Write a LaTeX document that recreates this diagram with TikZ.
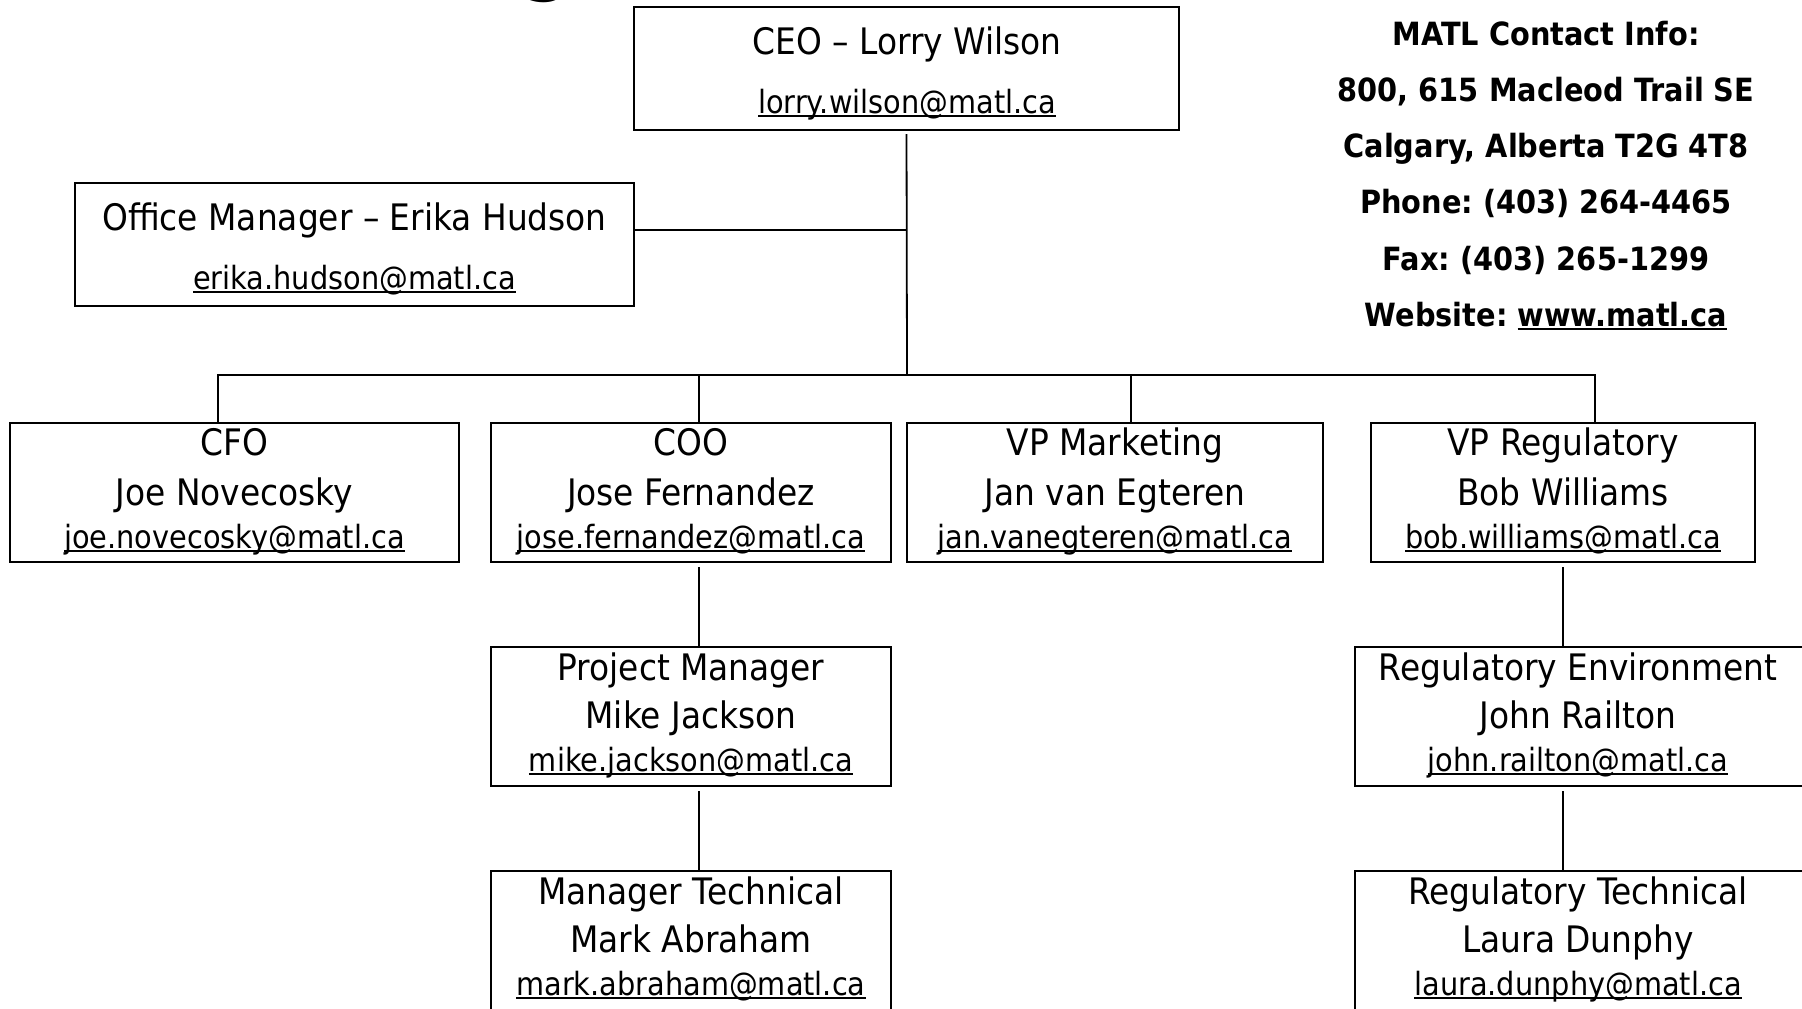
\documentclass[tikz,border=0pt]{standalone}
\usepackage{fontspec}
\setmainfont{DejaVu Sans}[FakeStretch=0.9]
\frenchspacing
\newcommand{\mailul}[1]{\setbox0\hbox{#1}\rlap{\rule[-0.11em]{\wd0}{0.055em}}\box0}
\tikzset{
 box/.style={draw, line width=1pt, rectangle, inner sep=0pt, outer sep=0pt},
 conn/.style={line width=0.9pt},
 ttl/.style={anchor=base, inner sep=0pt, font=\fontsize{18.25}{20}\selectfont},
 mail/.style={anchor=base, inner sep=0pt, font=\fontsize{16}{18}\selectfont},
 info/.style={anchor=base, inner sep=0pt, font=\bfseries\fontsize{16}{18}\selectfont},
 rowbox/.style={box, minimum height=69.5pt},
}
\begin{document}
\begin{tikzpicture}[x=0.5pt,y=-0.5pt]
\useasboundingbox (0,0) rectangle (1802,1008);
\fill[white] (0,0) rectangle (1802,1008);
\clip (0,0) rectangle (1802,1008);

% title fragment (cut off at top)
\node[anchor=base, inner sep=0pt, font=\bfseries\fontsize{40}{40}\selectfont] (ttlg) at (547,-15) {g};

% boxes
\node[box, minimum width=272.5pt, minimum height=61.5pt] (ceo) at (906.5,68.5) {};
\node[box, minimum width=279.5pt, minimum height=61.5pt] (om) at (354.5,244.5) {};
\node[rowbox, minimum width=224.5pt] (cfo) at (234.5,492.5) {};
\node[rowbox, minimum width=200pt] (coo) at (691,492.5) {};
\node[rowbox, minimum width=208pt] (vpm) at (1115,492.5) {};
\node[rowbox, minimum width=192pt] (vpr) at (1563,492.5) {};
\node[rowbox, minimum width=200pt] (pm) at (691,716.5) {};
\node[rowbox, minimum width=225.5pt] (re) at (1580.5,716.5) {};
\node[rowbox, minimum width=200pt] (mt) at (691,940.5) {};
\node[rowbox, minimum width=225.5pt] (rt) at (1580.5,940.5) {};

% texts
\node[ttl] (ceoT) at (907,54) {CEO – Lorry Wilson};
\node[mail] (ceoM) at (907,113) {\mailul{lorry.wilson@matl.ca}};
\node[ttl] (omT) at (354.5,230) {Office Manager – Erika Hudson};
\node[mail] (omM) at (354.5,289) {\mailul{erika.hudson@matl.ca}};

\node[ttl] (cfoT) at (234.5,455) {CFO};
\node[ttl] (cfoN) at (234.5,505) {Joe Novecosky};
\node[mail] (cfoM) at (234.5,548) {\mailul{joe.novecosky@matl.ca}};
\node[ttl] (cooT) at (691,455) {COO};
\node[ttl] (cooN) at (691,505) {Jose Fernandez};
\node[mail] (cooM) at (691,548) {\mailul{jose.fernandez@matl.ca}};
\node[ttl] (vpmT) at (1115,455) {VP Marketing};
\node[ttl] (vpmN) at (1115,505) {Jan van Egteren};
\node[mail] (vpmM) at (1115,548) {\mailul{jan.vanegteren@matl.ca}};
\node[ttl] (vprT) at (1563,455) {VP Regulatory};
\node[ttl] (vprN) at (1563,505) {Bob Williams};
\node[mail] (vprM) at (1563,548) {\mailul{bob.williams@matl.ca}};

\node[ttl] (pmT) at (691,680) {Project Manager};
\node[ttl] (pmN) at (691,728) {Mike Jackson};
\node[mail] (pmM) at (691,771) {\mailul{mike.jackson@matl.ca}};
\node[ttl] (reT) at (1578,680) {Regulatory Environment};
\node[ttl] (reN) at (1578,728) {John Railton};
\node[mail] (reM) at (1578,771) {\mailul{john.railton@matl.ca}};

\node[ttl] (mtT) at (691,904) {Manager Technical};
\node[ttl] (mtN) at (691,952) {Mark Abraham};
\node[mail] (mtM) at (691,995) {\mailul{mark.abraham@matl.ca}};
\node[ttl] (rtT) at (1578,904) {Regulatory Technical};
\node[ttl] (rtN) at (1578,952) {Laura Dunphy};
\node[mail] (rtM) at (1578,995) {\mailul{laura.dunphy@matl.ca}};

% contact info
\node[info] (c1) at (1546,45) {MATL Contact Info:};
\node[info] (c2) at (1546,101) {800, 615 Macleod Trail SE};
\node[info] (c3) at (1546,157) {Calgary, Alberta T2G 4T8};
\node[info] (c4) at (1546,213) {Phone: (403) 264-4465};
\node[info] (c5) at (1546,270) {Fax: (403) 265-1299};
\node[info] (c6) at (1546,326) {Website: \mailul{www.matl.ca}};

% connectors
\coordinate (j0) at (907,375);
\coordinate (jo) at (907,230);
\coordinate (d1) at (218,375);
\coordinate (d2) at (699,375);
\coordinate (d3) at (1131,375);
\coordinate (d4) at (1595,375);
\coordinate (k1) at (699,0);
\coordinate (k2) at (1563,0);
\draw[conn, shorten <=2pt] (ceo.south) -- (j0);
\draw[conn] (om.east |- jo) -- (jo);
\draw[conn] (d1 |- cfo.north) -- (d1) -- (d4) -- (d4 |- vpr.north);
\draw[conn] (d2) -- (d2 |- coo.north);
\draw[conn] (d3) -- (d3 |- vpm.north);
\draw[conn, shorten <=2.5pt] (coo.south -| k1) -- (pm.north -| k1);
\draw[conn, shorten <=2.5pt] (pm.south -| k1) -- (mt.north -| k1);
\draw[conn, shorten <=2.5pt] (vpr.south -| k2) -- (re.north -| k2);
\draw[conn, shorten <=2.5pt] (re.south -| k2) -- (rt.north -| k2);
\end{tikzpicture}
\end{document}
